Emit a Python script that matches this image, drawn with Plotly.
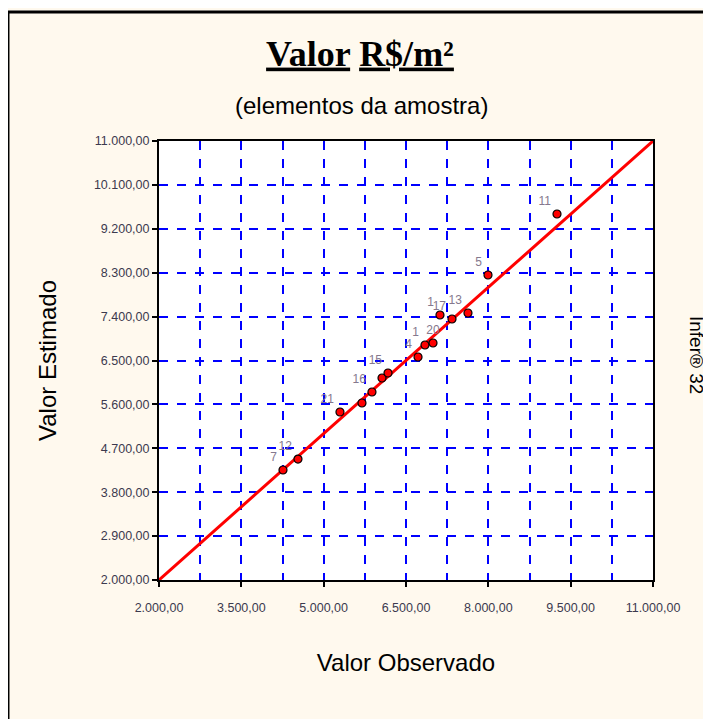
import plotly.graph_objects as go

# observed vs estimated values (R$/m2) of the sample elements
observado = [4259, 4532, 5297, 5698, 5880, 6063, 6172, 6719, 6846, 6992, 7119, 7338, 7629, 7994, 9251]
estimado = [4255, 4480, 5444, 5629, 5854, 6141, 6244, 6572, 6818, 6859, 7433, 7351, 7474, 8253, 9503]
rotulos = ["7", "12", "21", "", "16", "", "15", "4", "1", "20", "1", "17", "13", "5", "11"]

x_ticks = [2000, 3500, 5000, 6500, 8000, 9500, 11000]
y_ticks = [2000, 2900, 3800, 4700, 5600, 6500, 7400, 8300, 9200, 10100, 11000]
faixa = [2000, 11000]


def fmt_br(v):
    return f"{v:,.2f}".replace(",", "X").replace(".", ",").replace("X", ".")


BG = "#fff9ee"
GRID = "#0000ff"
TICK_FONT = {"family": "Liberation Sans, Arial, sans-serif", "size": 12.5, "color": "#3c3a4e"}

# label placement: the "20" label sits centred so it doesn't run into the "1"
posicoes = ["top left"] * len(rotulos)
posicoes[9] = "top center"

fig = go.Figure()

fig.add_trace(go.Scatter(
    x=faixa, y=faixa, mode="lines",
    line={"color": "#ff0000", "width": 3},
    hoverinfo="skip", showlegend=False,
))

fig.add_trace(go.Scatter(
    x=observado, y=estimado, mode="markers+text",
    text=rotulos, textposition=posicoes,
    textfont={"family": "Liberation Sans, Arial, sans-serif", "size": 12, "color": "#85788e"},
    marker={"color": "#ff0000", "size": 8, "line": {"color": "#000000", "width": 1.2}},
    showlegend=False,
))

# the page puts the figure 8px in from the top-left corner
fig.update_layout(
    width=711, height=719,
    margin={"l": 151, "r": 66, "t": 133, "b": 147},
    paper_bgcolor=BG,
    plot_bgcolor="#ffffff",
    font={"family": "Liberation Sans, Arial, sans-serif", "color": "#000000"},
    showlegend=False,
    title={
        "text": "<b><u>Valor</u> <u>R$/m²</u></b>",
        "font": {"family": "Liberation Serif, Times New Roman, serif", "size": 36, "color": "#000000"},
        "x": (360 - 159) / 494, "xanchor": "center", "xref": "paper",
        "y": 1 - 45 / 719, "yanchor": "middle",
    },
    shapes=[
        {"type": "line", "xref": "paper", "yref": "paper",
         "x0": -0.3057, "x1": -0.3057, "y0": 1.2938, "y1": -0.35,
         "line": {"color": "#000000", "width": 3}},
        {"type": "line", "xref": "paper", "yref": "paper",
         "x0": -0.3057, "x1": 1.2, "y0": 1.2938, "y1": 1.2938,
         "line": {"color": "#000000", "width": 3}},
    ],
    annotations=[
        {"text": "(elementos da amostra)", "xref": "paper", "yref": "paper",
         "x": (361 - 159) / 494, "y": (580 - 105) / 439, "showarrow": False,
         "xanchor": "center", "yanchor": "middle",
         "font": {"size": 24, "color": "#000000"}},
        {"text": "Infer® 32", "xref": "paper", "yref": "paper",
         "x": (697 - 159) / 494, "y": (580 - 355) / 439, "showarrow": False, "textangle": 90,
         "xanchor": "center", "yanchor": "middle",
         "font": {"size": 19, "color": "#000000"}},
    ],
)

fig.update_xaxes(
    range=faixa,
    tickvals=x_ticks, ticktext=[fmt_br(v) for v in x_ticks],
    tickfont=TICK_FONT, ticks="outside", ticklen=5, tickcolor="#000000", tickwidth=2,
    ticklabelstandoff=10,
    showgrid=True, gridcolor=GRID, griddash="dash", gridwidth=1.5,
    minor={"tick0": 2000, "dtick": 750, "showgrid": True, "gridcolor": GRID,
           "griddash": "dash", "gridwidth": 1.5},
    showline=True, linecolor="#000000", linewidth=2, mirror=True,
    zeroline=False,
    title={"text": "Valor Observado", "font": {"size": 24, "color": "#000000"}, "standoff": 40},
)

fig.update_yaxes(
    range=faixa,
    tickvals=y_ticks, ticktext=[fmt_br(v) for v in y_ticks],
    tickfont=TICK_FONT, ticks="outside", ticklen=5, tickcolor="#000000", tickwidth=2,
    showgrid=True, gridcolor=GRID, griddash="dash", gridwidth=1.5,
    showline=True, linecolor="#000000", linewidth=2, mirror=True,
    zeroline=False,
    title={"text": "Valor Estimado", "font": {"size": 24, "color": "#000000"}, "standoff": 30},
)

fig.write_html("out.html")
